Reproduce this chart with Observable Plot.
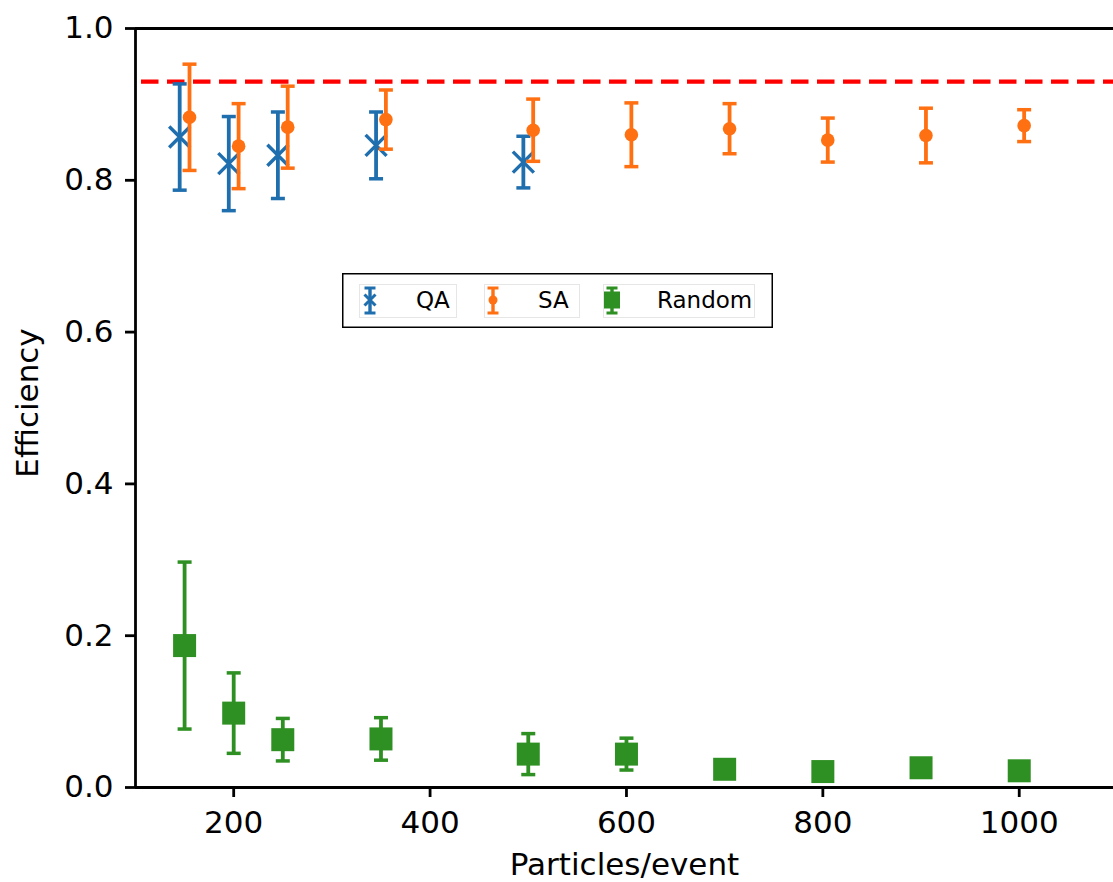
<!DOCTYPE html>
<html>
<head>
<meta charset="utf-8">
<script src="https://cdn.jsdelivr.net/npm/d3@7"></script>
<script src="https://cdn.jsdelivr.net/npm/@observablehq/plot@0.6"></script>
<style>
  html, body { margin: 0; padding: 0; background: #fff; }
  #wrap { position: relative; width: 1113px; height: 882px; }
  #legend { position: absolute; left: 342px; top: 273px; }
</style>
</head>
<body>
<div id="wrap"></div>
<script>
// Reconstruction efficiency vs. event multiplicity
const xTicks = [200, 400, 600, 800, 1000];
const yTicks = [0, 0.2, 0.4, 0.6, 0.8, 1.0];
const threshold = 0.93;

// QA (quantum annealing)
const qaX   = [145, 195, 245, 345, 495];
const qaEff = [0.857, 0.822, 0.833, 0.846, 0.824];
const qaErr = [0.070, 0.062, 0.057, 0.044, 0.034];

// SA (simulated annealing)
const saX   = [155, 205, 255, 355, 505, 605, 705, 805, 905, 1005];
const saEff = [0.883, 0.845, 0.870, 0.880, 0.866, 0.860, 0.868, 0.853, 0.859, 0.872];
const saErr = [0.070, 0.056, 0.054, 0.039, 0.041, 0.042, 0.033, 0.029, 0.036, 0.021];

// Random assignment
const rndX   = [150, 200, 250, 350, 500, 600, 700, 800, 900, 1000];
const rndEff = [0.187, 0.098, 0.063, 0.064, 0.044, 0.044, 0.024, 0.021, 0.026, 0.022];
const rndErr = [0.110, 0.053, 0.028, 0.028, 0.027, 0.021, 0.008, 0.008, 0.008, 0.008];

const colors = {QA: "#1f6eae", SA: "#ff7012", Random: "#2e8f22"};

const rows = (xs, ys, es) => xs.map((x, i) => ({x, y: ys[i], lo: ys[i] - es[i], hi: ys[i] + es[i]}));
const qa = rows(qaX, qaEff, qaErr);
const sa = rows(saX, saEff, saErr);
const rnd = rows(rndX, rndEff, rndErr);

// custom marker shapes
const capSymbol = {draw(ctx) { ctx.moveTo(-7, 0); ctx.lineTo(7, 0); }};
const crossSymbol = {draw(ctx) { ctx.moveTo(-10.5, -10.5); ctx.lineTo(10.5, 10.5); ctx.moveTo(-10.5, 10.5); ctx.lineTo(10.5, -10.5); }};
const squareSymbol = {draw(ctx) { ctx.rect(-11.5, -11.5, 23, 23); }};

function errorbars(data, color) {
  return [
    Plot.ruleX(data, {x: "x", y1: "lo", y2: "hi", stroke: color, strokeWidth: 3.8}),
    Plot.dot(data, {x: "x", y: "lo", symbol: capSymbol, stroke: color, fill: "none", strokeWidth: 3.5}),
    Plot.dot(data, {x: "x", y: "hi", symbol: capSymbol, stroke: color, fill: "none", strokeWidth: 3.5})
  ];
}

const chart = Plot.plot({
  width: 1113,
  height: 882,
  marginTop: 28,
  marginBottom: 95,
  marginLeft: 135,
  marginRight: 0,
  style: {fontFamily: "DejaVu Sans", fontSize: "31px", color: "#000", background: "#fff", overflow: "visible"},
  x: {domain: [100, 1096]},
  y: {domain: [0, 1]},
  marks: [
    Plot.axisX({ticks: xTicks, tickFormat: "d", tickSize: 10, tickPadding: 13, strokeWidth: 2.8, label: null}),
    Plot.axisY({ticks: yTicks, tickFormat: ".1f", tickSize: 10, tickPadding: 12, strokeWidth: 2.8, label: null}),
    Plot.ruleY([threshold], {stroke: "#ff0000", strokeWidth: 4.3, strokeDasharray: "17.5,8.5", strokeDashoffset: 20}),
    ...errorbars(qa, colors.QA),
    Plot.dot(qa, {x: "x", y: "y", symbol: crossSymbol, stroke: colors.QA, fill: "none", strokeWidth: 3.4}),
    ...errorbars(sa, colors.SA),
    Plot.dot(sa, {x: "x", y: "y", r: 6.8, fill: colors.SA, stroke: "none"}),
    ...errorbars(rnd, colors.Random),
    Plot.dot(rnd, {x: "x", y: "y", symbol: squareSymbol, fill: colors.Random, stroke: "none"}),
    // axes frame: left, bottom and top spines
    Plot.ruleX([100], {strokeWidth: 2.8}),
    Plot.ruleY([0, 1], {strokeWidth: 2.8}),
    Plot.text(["Particles/event"], {frameAnchor: "bottom", lineAnchor: "bottom", dy: 87, fontSize: 31}),
    Plot.text(["Efficiency"], {frameAnchor: "left", textAnchor: "middle", rotate: -90, dx: -107, dy: -5, fontSize: 31})
  ]
});

const wrap = document.getElementById("wrap");
wrap.appendChild(chart);

// legend box drawn inside the axes
const legendItems = [
  {name: "QA", marker: "cross", iconX: 28, boxX: 17, boxW: 97, textX: 74},
  {name: "SA", marker: "dot", iconX: 151, boxX: 142, boxW: 95, textX: 196},
  {name: "Random", marker: "square", iconX: 270, boxX: 261, boxW: 151, textX: 315}
];

const legend = d3.create("svg")
  .attr("id", "legend")
  .attr("width", 431)
  .attr("height", 55)
  .style("font-family", "DejaVu Sans")
  .style("font-size", "23px");

legend.append("rect")
  .attr("x", 0.75).attr("y", 0.75).attr("width", 429.5).attr("height", 53.5)
  .attr("fill", "#fff").attr("stroke", "#000").attr("stroke-width", 1.5);

for (const item of legendItems) {
  const c = colors[item.name];
  const g = legend.append("g");
  g.append("rect")
    .attr("x", item.boxX + 0.5).attr("y", 11.5).attr("width", item.boxW).attr("height", 33)
    .attr("fill", "none").attr("stroke", "#e6e6e6").attr("stroke-width", 1);
  const cx = item.iconX, cy = 27;
  g.append("line").attr("x1", cx).attr("x2", cx).attr("y1", 15).attr("y2", 40)
    .attr("stroke", c).attr("stroke-width", 3.4);
  for (const yy of [15, 40]) {
    g.append("line").attr("x1", cx - 5.5).attr("x2", cx + 5.5).attr("y1", yy).attr("y2", yy)
      .attr("stroke", c).attr("stroke-width", 3);
  }
  if (item.marker === "cross") {
    g.append("path").attr("d", `M${cx - 5.5},${cy - 5.5}L${cx + 5.5},${cy + 5.5}M${cx - 5.5},${cy + 5.5}L${cx + 5.5},${cy - 5.5}`)
      .attr("stroke", c).attr("stroke-width", 3).attr("fill", "none");
  } else if (item.marker === "dot") {
    g.append("circle").attr("cx", cx).attr("cy", cy).attr("r", 4.5).attr("fill", c);
  } else {
    g.append("rect").attr("x", cx - 8).attr("y", cy - 8.5).attr("width", 16).attr("height", 17).attr("fill", c);
  }
  g.append("text").attr("x", item.textX).attr("y", 35.3).attr("fill", "#000").text(item.name);
}

wrap.appendChild(legend.node());
</script>
</body>
</html>
